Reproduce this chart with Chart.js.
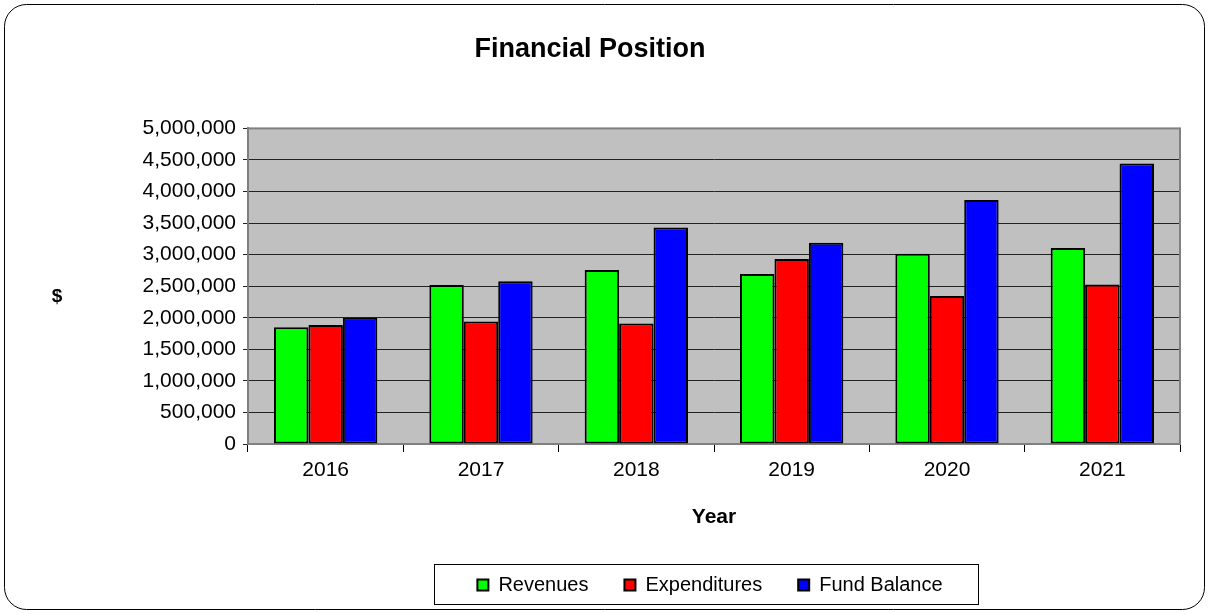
<!DOCTYPE html>
<html>
<head>
<meta charset="utf-8">
<script src="https://cdn.jsdelivr.net/npm/chart.js@4/dist/chart.umd.min.js"></script>
<style>
html,body{margin:0;padding:0;background:#fff;}
#wrap{width:1209px;height:614px;position:relative;}
</style>
</head>
<body>
<div id="wrap"><canvas id="c" width="1209" height="614"></canvas></div>
<script>
const years = ['2016','2017','2018','2019','2020','2021'];
const revenues = [1850000, 2520000, 2755000, 2695000, 3015000, 3105000];
const expenditures = [1885000, 1940000, 1910000, 2930000, 2345000, 2525000];
const fundBalance = [2000000, 2580000, 3430000, 3190000, 3865000, 4445000];
const yTicks = [0,500000,1000000,1500000,2000000,2500000,3000000,3500000,4000000,4500000,5000000];

const FONT = "'Liberation Sans', Arial, sans-serif";
const LEGEND_SHIFT = 120;

const decor = {
  id: 'decor',
  afterUpdate(chart) {
    const lg = chart.legend;
    if (lg) {
      lg.left += LEGEND_SHIFT;
      lg.right += LEGEND_SHIFT;
      lg.fit();
      lg.adjustHitBoxes();
    }
  },
  beforeDraw(chart) {
    const ctx = chart.ctx, a = chart.chartArea;
    ctx.save();
    ctx.fillStyle = '#fff';
    ctx.fillRect(0,0,chart.width,chart.height);
    ctx.strokeStyle = '#000';
    ctx.lineWidth = 1;
    ctx.beginPath();
    ctx.roundRect(4.5,4.5,chart.width-9,chart.height-9,22);
    ctx.stroke();
    ctx.fillStyle = '#C0C0C0';
    ctx.fillRect(a.left,a.top,a.right-a.left,a.bottom-a.top);
    ctx.restore();
  },
  beforeDatasetsDraw(chart) {
    const ctx = chart.ctx, a = chart.chartArea;
    ctx.save();
    ctx.strokeStyle = '#808080';
    ctx.lineWidth = 2;
    ctx.strokeRect(a.left,a.top,a.right-a.left,a.bottom-a.top);
    ctx.restore();
  },
  afterDraw(chart) {
    const ctx = chart.ctx, a = chart.chartArea;
    ctx.save();
    ctx.fillStyle = '#000';
    ctx.font = "bold 19px " + FONT;
    ctx.textAlign = 'center';
    ctx.textBaseline = 'middle';
    ctx.fillText('$', a.left - 191, (a.top + a.bottom)/2 + 11);
    const lg = chart.legend;
    if (lg && lg.legendHitBoxes && lg.legendHitBoxes.length) {
      const hb = lg.legendHitBoxes;
      const l = hb[0].left - 43;
      const r = hb[hb.length-1].left + hb[hb.length-1].width + 36;
      const cy = hb[0].top + hb[0].height/2;
      ctx.strokeStyle = '#000';
      ctx.lineWidth = 1;
      ctx.strokeRect(Math.round(l)+0.5, Math.round(cy-21)+0.5, Math.round(r-l), 40);
    }
    ctx.restore();
  }
};

new Chart(document.getElementById('c'), {
  type: 'bar',
  data: {
    labels: years,
    datasets: [
      {label:'Revenues', data: revenues, backgroundColor:'#00FF00', borderColor:'#000', borderWidth:2},
      {label:'Expenditures', data: expenditures, backgroundColor:'#FF0000', borderColor:'#000', borderWidth:2},
      {label:'Fund Balance', data: fundBalance, backgroundColor:'#0000FF', borderColor:'#000', borderWidth:2}
    ]
  },
  options: {
    responsive: false,
    animation: false,
    devicePixelRatio: 1,
    layout: { padding: { left: 0, right: 29, top: 0, bottom: 9 } },
    datasets: { bar: { categoryPercentage: 0.665, barPercentage: 1.0, borderSkipped: false } },
    plugins: {
      title: {
        display: true, text: 'Financial Position', color: '#000',
        font: { family: FONT, size: 27, weight: 'bold' },
        padding: { top: 33, bottom: 63 }
      },
      legend: {
        position: 'bottom',
        labels: {
          color: '#000', font: { family: FONT, size: 20 },
          boxWidth: 11, boxHeight: 11, padding: 36
        }
      },
      tooltip: { enabled: false }
    },
    scales: {
      x: {
        afterFit(scale) { scale.height = 95; },
        grid: { offset: true, drawOnChartArea: false, drawTicks: true, tickLength: 8, color: '#000' },
        border: { display: true, color: '#808080', width: 2 },
        ticks: { color: '#000', font: { family: FONT, size: 21 }, padding: 6 },
        title: { display: true, text: 'Year', color: '#000', font: { family: FONT, size: 21, weight: 'bold' }, padding: { top: 0, bottom: 9 } }
      },
      y: {
        min: 0, max: 5000000,
        afterFit(scale) { scale.width = 248; },
        afterBuildTicks(scale) { scale.ticks = yTicks.map(v => ({ value: v })); },
        grid: { color: '#222', lineWidth: 1, tickLength: 5, drawTicks: true },
        border: { display: true, color: '#808080', width: 2 },
        ticks: {
          color: '#000', font: { family: FONT, size: 21 }, padding: 7,
          callback: v => Number(v).toLocaleString('en-US')
        }
      }
    }
  },
  plugins: [decor]
});
</script>
</body>
</html>
